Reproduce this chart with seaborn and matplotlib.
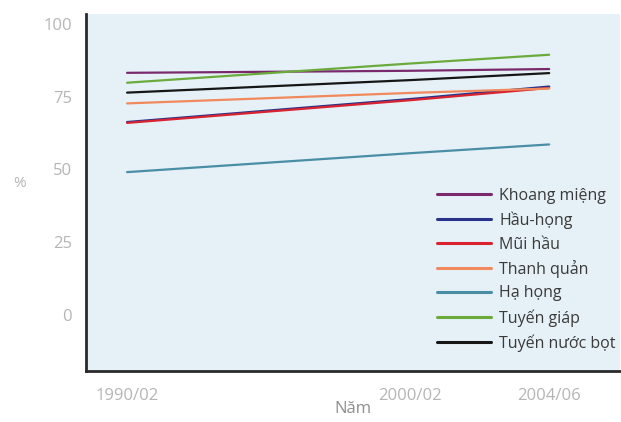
import numpy as np
import pandas as pd
import matplotlib
matplotlib.use("Agg")
import matplotlib.pyplot as plt
import seaborn as sns

# periods on the x axis and where they sit on a year scale
periods = ["1990/02", "2000/02", "2004/06"]
period_year = [1990, 2000, 2004.9]

sites = ["Khoang miệng", "Hầu-họng", "Mũi hầu", "Thanh quản",
         "Hạ họng", "Tuyến giáp", "Tuyến nước bọt"]

khoang_mieng = [83.2, 83.9, 84.5]
hau_hong = [66.3, 74.2, 78.5]
mui_hau = [66.0, 73.8, 78.0]
thanh_quan = [72.7, 76.3, 77.8]
ha_hong = [49.1, 55.6, 58.6]
tuyen_giap = [79.8, 86.4, 89.4]
tuyen_nuoc_bot = [76.4, 80.7, 83.1]

colors = ["#7a2a6c", "#29338a", "#d92430", "#f0895c",
          "#4a8ea6", "#6aab3c", "#161616"]

values = [khoang_mieng, hau_hong, mui_hau, thanh_quan,
          ha_hong, tuyen_giap, tuyen_nuoc_bot]
rows = []
for site, vals in zip(sites, values):
    for yr, v in zip(period_year, vals):
        rows.append({"year": yr, "pct": v, "site": site})
df = pd.DataFrame(rows)

sns.set_style("white")
plt.rcParams["font.family"] = ["Open Sans", "DejaVu Sans"]

fig = plt.figure(figsize=(6.21, 4.22), dpi=100)
ax = fig.add_axes([86 / 621, 1 - 371 / 422, 534 / 621, 357 / 422])
ax.set_facecolor("#e5f1f7")

sns.lineplot(data=df, x="year", y="pct", hue="site", hue_order=sites,
             palette=colors, linewidth=1.6, ax=ax)

ax.set_xlim(1988.55, 2007.4)
ax.set_ylim(-19.2, 103.4)
ax.set_xticks(period_year)
ax.set_xticklabels(periods)
ax.set_yticks([0, 25, 50, 75, 100])

for side in ["top", "right"]:
    ax.spines[side].set_visible(False)
for side in ["left", "bottom"]:
    ax.spines[side].set_color("#2a2a2a")
    ax.spines[side].set_linewidth(2)

ax.tick_params(axis="both", direction="in", length=4, width=1.5,
               color="#2a2a2a", labelcolor="#b5b5b5", labelsize=12)
ax.tick_params(axis="x", pad=12)
ax.tick_params(axis="y", pad=10)

ax.set_xlabel("Năm", color="#8e8e8e", fontsize=12)
ax.xaxis.set_label_coords(0.5, -0.085)
ax.set_ylabel("%", color="#b5b5b5", fontsize=11, rotation=0)
ax.yaxis.set_label_coords(-0.125, 0.505)

handles, labels = ax.get_legend_handles_labels()
leg = ax.legend(handles, labels, loc="upper left",
                bbox_to_anchor=(437 / 621, 1 - 188 / 422),
                bbox_transform=fig.transFigure, frameon=False,
                fontsize=11.5, handlelength=3.4, handletextpad=0.5,
                labelspacing=0.47, borderpad=0, borderaxespad=0)
for line in leg.get_lines():
    line.set_linewidth(2.2)
for t in leg.get_texts():
    t.set_color("#3a3a3a")

fig.savefig("out.png", dpi=100)
